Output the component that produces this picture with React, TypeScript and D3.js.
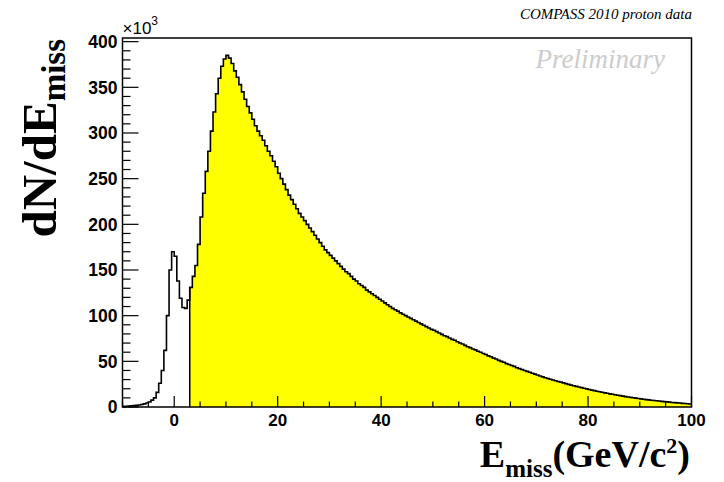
import React, { useEffect, useRef } from "react";
import * as d3 from "d3";

// histogram of E_miss, 0.5 GeV bins, counts in units of 10^3
const binWidth = 0.5;
const lowStart = -10;
// white part, -10 .. 3
const lowCounts = [
  0.7, 0.8, 1.0, 1.2, 1.5, 1.8, 2.2, 2.7, 3.4, 4.3, 5.5, 7.5, 10, 16, 26, 40,
  62, 100, 150, 170, 165, 138, 119, 109, 108, 117,
];
// yellow part, 3 .. 100
const signalStart = 3;
const signalCounts = [
  131, 143, 155, 178, 208, 234, 258, 280, 302, 323, 343, 360, 373, 381, 385,
  382, 376, 368,
  361, 353, 345, 337, 329, 322, 315, 308, 302, 297, 292, 286, 280, 275, 269,
  263, 256, 250, 244, 238, 232, 227, 222, 217, 212, 208, 204, 200, 196, 192,
  188, 184, 180, 176, 172, 169, 166, 163, 160, 157, 154, 151, 148, 146, 143,
  140, 138, 135, 133, 131, 128, 126, 124, 122, 120, 118, 116, 114, 112, 110,
  108, 106.5, 105, 103, 101.5, 100, 98.5, 97, 95.5, 94, 92.5, 91, 89.5, 88,
  86.5, 85, 84, 82.5, 81, 79.5, 78, 77, 75.5, 74, 73, 71.5, 70, 69, 67.5, 66,
  65, 63.5, 62.5, 61, 60, 58.5, 57.5, 56, 55, 53.5, 52.5, 51, 50, 49, 47.5,
  46.5, 45.5, 44.5, 43, 42, 41, 40, 39, 38, 37, 36, 35, 34, 33, 32, 31.2, 30.4,
  29.6, 28.8, 28, 27.2, 26.4, 25.6, 24.8, 24, 23.3, 22.6, 21.9, 21.2, 20.5,
  19.8, 19.2, 18.5, 17.9, 17.3, 16.7, 16.1, 15.5, 15, 14.4, 13.9, 13.4, 12.9,
  12.4, 11.9, 11.4, 11, 10.5, 10.1, 9.7, 9.3, 8.9, 8.5, 8.1, 7.8, 7.4, 7.1,
  6.8, 6.5, 6.2, 5.9, 5.6, 5.3, 5.0, 4.8, 4.5, 4.3, 4.0, 3.8, 3.5, 3.3,
];

const xTickValues = [0, 20, 40, 60, 80, 100];
const yTickValues = [0, 50, 100, 150, 200, 250, 300, 350, 400];

const W = 724;
const H = 482;
const margin = { left: 122.5, right: 32.5, top: 38, bottom: 75 };

const App = () => {
  const ref = useRef<SVGSVGElement>(null);

  useEffect(() => {
    const svg = d3.select(ref.current);
    svg.selectAll("*").remove();

    const x = d3
      .scaleLinear()
      .domain([-10, 100])
      .range([margin.left, W - margin.right]);
    const y = d3
      .scaleLinear()
      .domain([0, 404])
      .range([H - margin.bottom, margin.top]);

    const bins = [
      ...lowCounts.map((v, i) => ({ lo: lowStart + i * binWidth, v })),
      ...signalCounts.map((v, i) => ({ lo: signalStart + i * binWidth, v })),
    ];
    const steps = (bs: { lo: number; v: number }[]) =>
      bs.flatMap((b) => [
        [b.lo, b.v],
        [b.lo + binWidth, b.v],
      ]);

    // yellow fill for E_miss > 3
    const sig = steps(bins.filter((b) => b.lo >= signalStart));
    svg
      .append("path")
      .attr(
        "d",
        d3
          .area<number[]>()
          .x((d) => x(d[0]))
          .y0(y(0))
          .y1((d) => y(d[1]))(sig)
      )
      .attr("fill", "#ffff00")
      .attr("stroke", "none");
    svg
      .append("line")
      .attr("x1", x(signalStart))
      .attr("x2", x(signalStart))
      .attr("y1", y(0))
      .attr("y2", y(signalCounts[0]))
      .attr("stroke", "#000")
      .attr("stroke-width", 1.5);

    // full histogram outline
    svg
      .append("path")
      .attr(
        "d",
        d3
          .line<number[]>()
          .x((d) => x(d[0]))
          .y((d) => y(d[1]))(steps(bins))
      )
      .attr("fill", "none")
      .attr("stroke", "#000")
      .attr("stroke-width", 1.6);

    // frame
    svg
      .append("rect")
      .attr("x", x(-10))
      .attr("y", y(404))
      .attr("width", x(100) - x(-10))
      .attr("height", y(0) - y(404))
      .attr("fill", "none")
      .attr("stroke", "#000")
      .attr("stroke-width", 1.5);

    const g = svg.append("g").attr("stroke", "#000").attr("stroke-width", 1.2);
    // y ticks (inside)
    d3.range(0, 401, 10).forEach((t) => {
      const major = t % 50 === 0;
      g.append("line")
        .attr("x1", x(-10))
        .attr("x2", x(-10) + (major ? 16 : 8))
        .attr("y1", y(t))
        .attr("y2", y(t));
    });
    // x ticks (inside)
    d3.range(-10, 101, 5).forEach((t) => {
      const major = t % 20 === 0;
      g.append("line")
        .attr("x1", x(t))
        .attr("x2", x(t))
        .attr("y1", y(0))
        .attr("y2", y(0) - (major ? 11 : 5.5));
    });

    const sans = "'Liberation Sans', Arial, Helvetica, sans-serif";
    const serif = "'Liberation Serif', 'Times New Roman', serif";

    svg
      .append("g")
      .selectAll("text")
      .data(yTickValues)
      .join("text")
      .attr("x", x(-10) - 5)
      .attr("y", (d) => y(d))
      .attr("dy", "0.36em")
      .attr("text-anchor", "end")
      .attr("font-family", sans)
      .attr("font-weight", "bold")
      .attr("font-size", 17.5)
      .text((d) => d);

    svg
      .append("g")
      .selectAll("text")
      .data(xTickValues)
      .join("text")
      .attr("x", (d) => x(d))
      .attr("y", y(0) + 19)
      .attr("text-anchor", "middle")
      .attr("font-family", sans)
      .attr("font-weight", "bold")
      .attr("font-size", 17)
      .text((d) => d);

    // x10^3 multiplier
    const mult = svg
      .append("text")
      .attr("x", x(-10))
      .attr("y", 34)
      .attr("font-family", sans)
      .attr("font-size", 17);
    mult.append("tspan").text("\u00d710");
    mult.append("tspan").attr("dy", -9).attr("font-size", 12).text("3");

    // y title
    const yt = svg
      .append("text")
      .attr("transform", "translate(56,39) rotate(-90)")
      .attr("text-anchor", "end")
      .attr("font-family", serif)
      .attr("font-weight", "bold")
      .attr("font-size", 49);
    yt.append("tspan").text("dN/dE");
    yt.append("tspan").attr("dy", 9).attr("font-size", 33).text("miss");

    // x title
    const xt = svg
      .append("text")
      .attr("x", 690)
      .attr("y", 467)
      .attr("text-anchor", "end")
      .attr("font-family", serif)
      .attr("font-weight", "bold")
      .attr("font-size", 38);
    xt.append("tspan").text("E");
    xt.append("tspan").attr("dy", 10).attr("font-size", 25).text("miss");
    xt.append("tspan").attr("dy", -10).text("(GeV/c");
    xt.append("tspan").attr("dy", -14).attr("font-size", 22).text("2");
    xt.append("tspan").attr("dy", 14).text(")");

    svg
      .append("text")
      .attr("x", 692)
      .attr("y", 19)
      .attr("text-anchor", "end")
      .attr("font-family", serif)
      .attr("font-style", "italic")
      .attr("font-size", 15)
      .text("COMPASS 2010 proton data");

    svg
      .append("text")
      .attr("x", 665)
      .attr("y", 68)
      .attr("text-anchor", "end")
      .attr("font-family", serif)
      .attr("font-style", "italic")
      .attr("font-size", 27)
      .attr("fill", "#cccccc")
      .text("Preliminary");
  }, []);

  return (
    <svg
      ref={ref}
      width={W}
      height={H}
      style={{ position: "absolute", left: 0, top: 0, background: "#fff" }}
    ></svg>
  );
};

export default App;
